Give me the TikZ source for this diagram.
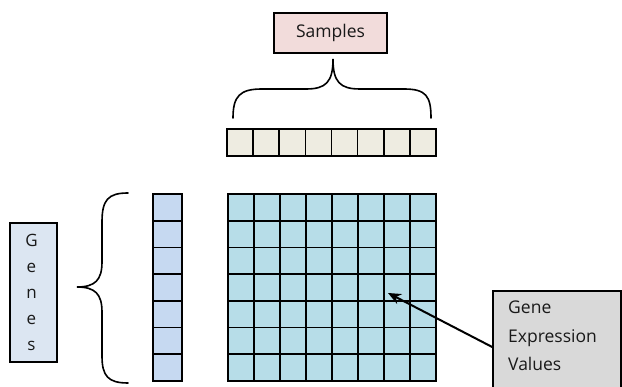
\documentclass[tikz,border=0pt]{standalone}
\usepackage{fontspec}
\setmainfont{Open Sans}
\usetikzlibrary{arrows.meta}
\definecolor{samplefill}{HTML}{F2DCDB}
\definecolor{rowfill}{HTML}{EEECE1}
\definecolor{genefill}{HTML}{DCE6F2}
\definecolor{colfill}{HTML}{C6D9F1}
\definecolor{cellfill}{HTML}{B7DDE8}
\definecolor{valfill}{HTML}{D9D9D9}
\tikzset{
  box/.style={draw=black,line width=1.6pt,inner sep=0pt},
  cell/.style={draw=black,line width=1.6pt},
  brace/.style={draw=black,line width=1.6pt,line cap=round},
  lbl/.style={font=\fontsize{17.5}{28.5}\selectfont,text=black!90}
}
\begin{document}
\begin{tikzpicture}[x=1pt,y=-1pt]
        \useasboundingbox (0,0) rectangle (622,387);
        % labels
        \node[box,fill=samplefill,minimum width=113pt,minimum height=40pt,lbl] (samples) at (330.5,33) {Samples};
        \node[box,fill=genefill,minimum width=47pt,minimum height=139pt] (genes) at (33.5,292.5) {};
        \node[lbl,align=center,font=\fontsize{17}{26}\selectfont] (geneword) at ([xshift=-2pt]genes.center) {G\\e\\n\\e\\s};
        \node[box,fill=valfill,minimum width=128pt,minimum height=112pt] (values) at (557,347) {};
        \node[lbl,anchor=north west,align=left,inner sep=0pt] (valword) at (508,301) {Gene\\Expression\\Values};
        % sample row
        \foreach \i in {0,...,7}
            \draw[cell,fill=rowfill] (227+\i*26.125,129) rectangle ++(26.125,27);
        % gene column
        \foreach \j in {0,...,6}
            \draw[cell,fill=colfill] (153,194+\j*26.71) rectangle ++(29,26.71);
        % expression matrix
        \foreach \i in {0,...,7}
            \foreach \j in {0,...,6}
                \draw[cell,fill=cellfill] (228+\i*26,194+\j*26.71) rectangle ++(26,26.71);
        % braces
        \coordinate (toptip) at (333,59);
        \coordinate (lefttip) at (77,287);
        \draw[brace] (233,118) .. controls (233,96) and (240,89) .. (262,89) -- (306,89)
            .. controls (326,89) and (333,82) .. (toptip)
            .. controls (333,82) and (340,89) .. (360,89) -- (404,89)
            .. controls (426,89) and (431,96) .. (431,118);
        \draw[brace] (128,193) .. controls (108,193) and (102,200) .. (102,222) -- (102,262)
            .. controls (102,280) and (95,287) .. (lefttip)
            .. controls (95,287) and (102,294) .. (102,312) -- (102,356)
            .. controls (102,376) and (108,383) .. (128,383);
        % pointer
        \coordinate (target) at (388,293);
        \draw[line width=2pt,-{Stealth[length=13pt,width=11pt]}] (values.west) -- (target);
\end{tikzpicture}
\end{document}
